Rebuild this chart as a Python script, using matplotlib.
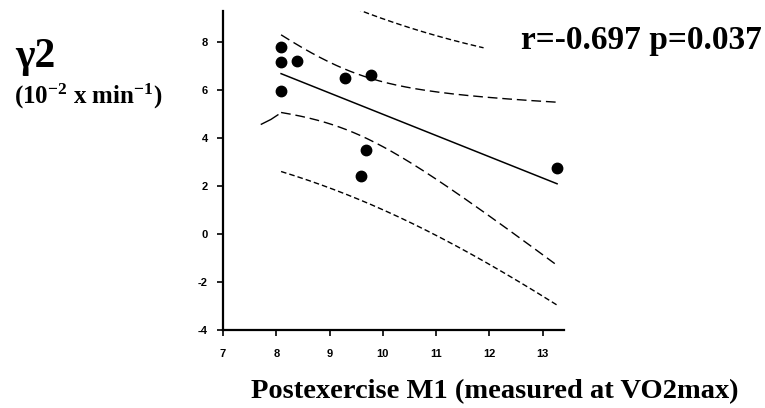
import matplotlib
matplotlib.use("Agg")
import matplotlib.pyplot as plt
import numpy as np

# datos
m1 = np.array([8.09, 8.09, 8.39, 8.09, 9.29, 9.78, 9.68, 9.59, 13.27])
gamma2 = np.array([7.77, 7.16, 7.20, 5.96, 6.47, 6.61, 3.50, 2.42, 2.75])

x_ticks = [7, 8, 9, 10, 11, 12, 13]
y_ticks = [-4, -2, 0, 2, 4, 6, 8]

t_crit = 2.3646          # t(0.975, n-2=7)
pred_upper_end = 11.9    # la banda externa superior se corta aqui en el original
hook_x = [7.72, 7.90, 8.03]
hook_y = [4.56, 4.76, 4.95]

W, H = 765, 408
serif = "Liberation Serif"
plt.rcParams["axes.unicode_minus"] = False
plt.rcParams["mathtext.fontset"] = "custom"
plt.rcParams["mathtext.rm"] = "Liberation Serif:bold"
plt.rcParams["mathtext.it"] = "Liberation Serif:bold"
plt.rcParams["mathtext.bf"] = "Liberation Serif:bold"

# regresion lineal y bandas de confianza / prediccion
n = len(m1)
slope, icpt = np.polyfit(m1, gamma2, 1)
resid = gamma2 - (slope * m1 + icpt)
s = np.sqrt(np.sum(resid ** 2) / (n - 2))
sxx = np.sum((m1 - m1.mean()) ** 2)
xs = np.linspace(m1.min(), m1.max(), 200)
fit = slope * xs + icpt
ci = t_crit * s * np.sqrt(1 / n + (xs - m1.mean()) ** 2 / sxx)
pi = t_crit * s * np.sqrt(1 + 1 / n + (xs - m1.mean()) ** 2 / sxx)

fig = plt.figure(figsize=(W / 100, H / 100), dpi=100)
ax = fig.add_axes([223 / W, 1 - 330 / H, (564 - 223) / W, (330 - 11) / H])

ax.plot(m1, gamma2, "o", color="black", ms=7.5)
ax.plot(xs, fit, color="black", lw=1.1)
ax.plot(xs, fit + ci, color="black", lw=1.0, dashes=(7, 3.5))
ax.plot(xs, fit - ci, color="black", lw=1.0, dashes=(7, 3.5))
ax.plot(hook_x, hook_y, color="black", lw=1.0)
up = xs <= pred_upper_end
ax.plot(xs[up], (fit + pi)[up], color="black", lw=1.0, dashes=(4, 2.2))
ax.plot(xs, fit - pi, color="black", lw=1.0, dashes=(4, 2.2))

ax.set_xlim(7, 13.4)
ax.set_ylim(-4, 9.27)
ax.set_xticks(x_ticks)
ax.set_yticks(y_ticks)
for sp in ["top", "right"]:
    ax.spines[sp].set_visible(False)
for sp in ["left", "bottom"]:
    ax.spines[sp].set_linewidth(1.6)
ax.tick_params(direction="out", length=4, width=1.2, labelsize=8)
ax.tick_params(axis="x", pad=10)
ax.tick_params(axis="y", pad=7)
for lab in ax.get_xticklabels() + ax.get_yticklabels():
    lab.set_fontweight("bold")
    lab.set_family("Liberation Sans")

# textos
fig.text(15 / W, 1 - 66.7 / H, "\u03b32", family=serif, fontweight="bold",
         fontsize=30, ha="left", va="baseline")
fig.text(14 / W, 1 - 104 / H, r"(10$^{-2}$ x min$^{-1}$)", family=serif,
         fontweight="bold", fontsize=18, ha="left", va="baseline")
fig.text(521 / W, 1 - 49.3 / H, "r=-0.697 p=0.037", family=serif,
         fontweight="bold", fontsize=24, ha="left", va="baseline")
fig.text(495 / W, 1 - 398 / H, "Postexercise M1 (measured at VO2max)",
         family=serif, fontweight="bold", fontsize=20.5, ha="center",
         va="baseline")

plt.savefig("out.png", dpi=100)
plt.close()
